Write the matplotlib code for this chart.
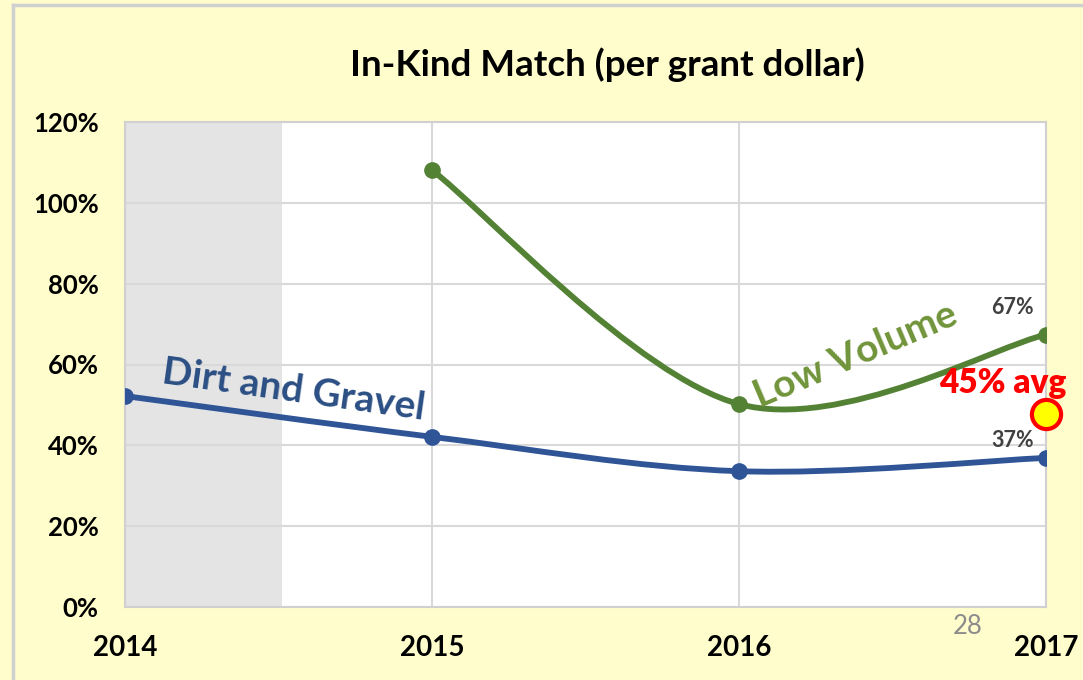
import numpy as np
import matplotlib
matplotlib.use("Agg")
from matplotlib import pyplot as plt
from matplotlib.path import Path
from matplotlib.patches import PathPatch
from matplotlib.ticker import PercentFormatter

plt.rcParams['font.family'] = ['Lato', 'DejaVu Sans']

# Datos
years = [2014, 2015, 2016, 2017]
dirt_gravel = [52.2, 42.1, 33.6, 36.9]
low_volume_years = [2015, 2016, 2017]
low_volume = [108.1, 50.2, 67.4]
avg_value = 47.7
avg_label = "45% avg"
end_labels = ["67%", "37%"]
slide_number = "28"

# Colores
blue = "#2F5597"
green = "#548235"
bg = "#FFFDCC"


def smooth_path(xs, ys):
    # curva suavizada tipo Excel (Bezier con puntos de control Catmull-Rom)
    pts = np.column_stack([xs, ys]).astype(float)
    verts = [pts[0]]
    codes = [Path.MOVETO]
    n = len(pts)
    for i in range(n - 1):
        p0 = pts[i - 1] if i > 0 else pts[i]
        p1 = pts[i]
        p2 = pts[i + 1]
        p3 = pts[i + 2] if i + 2 < n else pts[i + 1]
        verts += [p1 + (p2 - p0) / 6, p2 - (p3 - p1) / 6, p2]
        codes += [Path.CURVE4] * 3
    return Path(verts, codes)


fig = plt.figure(figsize=(10.83, 6.8), dpi=100, facecolor=bg)
ax = fig.add_axes([125 / 1083, 1 - 607 / 680, 921 / 1083, 485 / 680])
ax.set_facecolor("white")

# marco exterior
fig.add_artist(plt.Line2D([13 / 1083, 13 / 1083], [0, 1 - 5 / 680], color="#D0D0D0", lw=2.5))
fig.add_artist(plt.Line2D([13 / 1083, 1], [1 - 5 / 680, 1 - 5 / 680], color="#D0D0D0", lw=2.5))

ax.axvspan(2014, 2014.51, color="#E4E4E4", zorder=0, lw=0)

for xs, ys, c in [(years, dirt_gravel, blue), (low_volume_years, low_volume, green)]:
    ax.add_patch(PathPatch(smooth_path(xs, ys), facecolor="none", edgecolor=c,
                           lw=4.2, capstyle="round", zorder=3))
    ax.plot(xs, ys, "o", color=c, ms=11, zorder=4)

ax.plot([2017], [avg_value], "o", ms=21, mfc="#FFFF00", mec="#FF0000", mew=3,
        zorder=6, clip_on=False)

ax.set_xlim(2014, 2017)
ax.set_ylim(0, 120)
ax.set_xticks(years)
ax.set_yticks(np.arange(0, 121, 20))
ax.yaxis.set_major_formatter(PercentFormatter(decimals=0))
ax.tick_params(length=0)
ax.tick_params(axis="y", pad=19, labelsize=18.5)
ax.tick_params(axis="x", pad=20, labelsize=20)
for lab in ax.get_xticklabels() + ax.get_yticklabels():
    lab.set_fontweight("bold")
ax.grid(True, color="#D9D9D9", lw=1.5, zorder=1)
ax.set_axisbelow(True)
for s in ax.spines.values():
    s.set_color("#D0D0D0")
    s.set_linewidth(1.5)

fig.text(607 / 1083, 1 - 65 / 680, "In-Kind Match (per grant dollar)",
         ha="center", va="center", fontsize=26.5, fontweight="bold")

ax.text(2014.55, 53.6, "Dirt and Gravel", color="#2B4F84", fontsize=28,
        fontweight="bold", rotation=-8, ha="center", va="center", zorder=5)
ax.text(2016.38, 62.3, "Low Volume", color="#70943A", fontsize=28,
        fontweight="bold", rotation=23, ha="center", va="center", zorder=5)
ax.text(2016.89, 74.0, end_labels[0], color="#404040", fontsize=15.5,
        fontweight="bold", ha="center", va="center", zorder=5)
ax.text(2016.89, 41.3, end_labels[1], color="#404040", fontsize=15.5,
        fontweight="bold", ha="center", va="center", zorder=5)
ax.text(2016.86, 55.4, avg_label, color="#FF0000", fontsize=24,
        fontweight="heavy", ha="center", va="center", zorder=7)

fig.text(968 / 1083, 1 - 627 / 680, slide_number, color="#8C8C8C",
         fontsize=18.5, ha="center", va="center")

fig.savefig("out.png", dpi=100, facecolor=bg)
